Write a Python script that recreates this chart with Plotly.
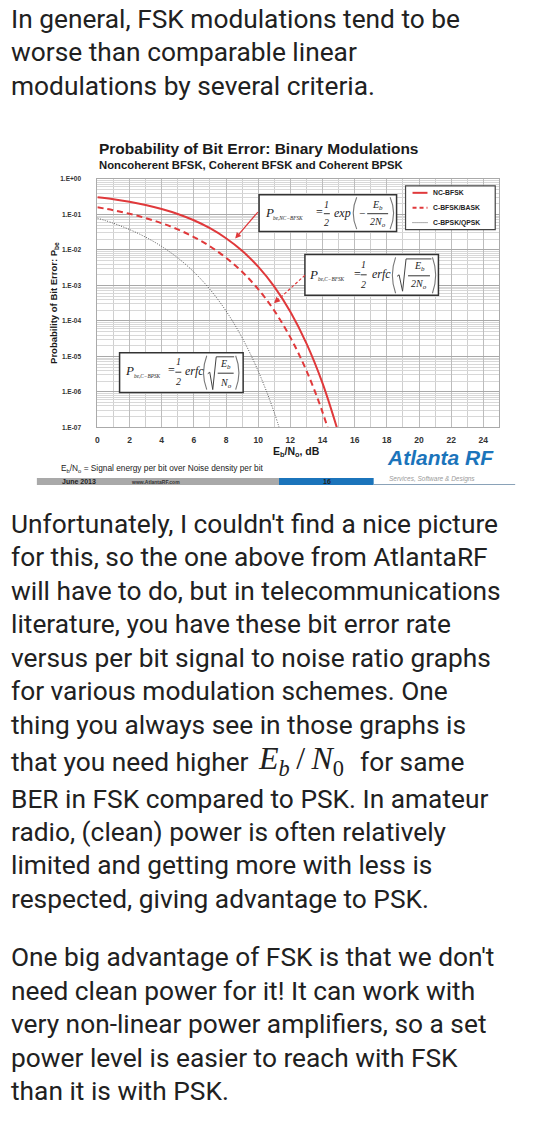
import plotly.graph_objects as go

W, H = 560, 1132

def X(px):
    return px / W

def Y(py):
    return 1 - py / H

# ---------------- data ----------------
ebno_db = [0, 1, 2, 3, 4, 5, 6, 7, 8, 9, 10, 11, 12, 13, 14, 15]
nc_bfsk = [0.303, 0.267, 0.226, 0.184, 0.142, 0.103, 0.0683, 0.0408, 0.0213,
           0.00942, 0.00337, 0.000923, 0.000181, 2.33e-5, 1.76e-6, 6.8e-8]
c_bfsk = [0.159, 0.131, 0.104, 0.0789, 0.0565, 0.0377, 0.0230, 0.0126, 0.0060,
          0.00242, 0.000783, 0.000194, 3.43e-5, 3.97e-6, 2.69e-7, 9.4e-9]
ebno_psk = [0, 1, 2, 3, 4, 5, 6, 7, 8, 9, 10, 11, 12]
c_bpsk = [0.0786, 0.0563, 0.0375, 0.0229, 0.0125, 0.00595, 0.00239, 0.000773,
          0.000191, 3.36e-5, 3.87e-6, 2.61e-7, 9.0e-9]

series_names = ["NC-BFSK", "C-BFSK/BASK", "C-BPSK/QPSK"]
x_ticks = [0, 2, 4, 6, 8, 10, 12, 14, 16, 18, 20, 22, 24]
y_ticks = [1, 1e-1, 1e-2, 1e-3, 1e-4, 1e-5, 1e-6, 1e-7]
y_tick_text = ["1.E+00", "1.E-01", "1.E-02", "1.E-03", "1.E-04", "1.E-05", "1.E-06", "1.E-07"]

RED = "#e0393b"
DOT = "#555555"
TXT = "#212121"
SANS = "Liberation Sans"
SERIF = "Liberation Serif"

fig = go.Figure()
fig.add_trace(go.Scatter(x=ebno_db, y=nc_bfsk, mode="lines", name=series_names[0],
                         line=dict(color=RED, width=2, shape="spline")))
fig.add_trace(go.Scatter(x=ebno_db, y=c_bfsk, mode="lines", name=series_names[1],
                         line=dict(color=RED, width=2, dash="6px,4px", shape="spline")))
fig.add_trace(go.Scatter(x=ebno_psk, y=c_bpsk, mode="lines", name=series_names[2],
                         line=dict(color=DOT, width=1, dash="1px,1.5px", shape="spline")))

PL, PR, PT, PB = 95.7, 499.2, 176.0, 426.0

fig.update_layout(
    width=W, height=H, margin=dict(l=0, r=0, t=0, b=0),
    paper_bgcolor="white", plot_bgcolor="white", showlegend=False,
    xaxis=dict(domain=[X(PL), X(PR)], range=[0, 25], tickvals=x_ticks,
               ticktext=[str(v) for v in x_ticks], showgrid=True, gridcolor="#bdbdbd",
               gridwidth=1, zeroline=False, showline=True, linecolor="#aaaaaa", mirror=True,
               ticks="", ticklabelstandoff=4,
               tickfont=dict(family=SANS, size=8.5, color="#333", weight="bold"),
               minor=dict(dtick=1, showgrid=True, gridcolor="#cfcfcf", gridwidth=1)),
    yaxis=dict(domain=[Y(PB), Y(PT)], type="log", range=[-7, 0], tickvals=y_ticks,
               ticktext=y_tick_text, showgrid=True, gridcolor="#a9a9a9", gridwidth=1,
               zeroline=False, showline=True, linecolor="#aaaaaa", mirror=True,
               ticks="", ticklabelstandoff=14,
               tickfont=dict(family=SANS, size=6.5, color="#333", weight="bold"),
               minor=dict(dtick="D1", showgrid=True, gridcolor="#d8d8d8", gridwidth=1)),
)

ann = []
shapes = []

def text(s, x, baseline, size, family=SANS, color=TXT, anchor="left", weight="normal",
         style="normal", k=0.35, angle=0):
    ann.append(dict(text=s, x=X(x), y=Y(baseline - k * size), xref="paper", yref="paper",
                    xanchor=anchor, yanchor="middle", showarrow=False, textangle=angle,
                    font=dict(family=family, size=size, color=color, weight=weight,
                              style=style)))

def ctext(s, x, yc, size, family=SERIF, color="#222", anchor="center", style="italic"):
    ann.append(dict(text=s, x=X(x), y=Y(yc), xref="paper", yref="paper",
                    xanchor=anchor, yanchor="middle", showarrow=False,
                    font=dict(family=family, size=size, color=color, style=style)))

def line(x0, y0, x1, y1, color="#222", width=1, dash="solid"):
    shapes.append(dict(type="line", xref="paper", yref="paper", x0=X(x0), y0=Y(y0),
                       x1=X(x1), y1=Y(y1), line=dict(color=color, width=width, dash=dash)))

def rect(x0, y0, x1, y1, color="#333", width=1.5, fill="white"):
    shapes.append(dict(type="rect", xref="paper", yref="paper", x0=X(x0), y0=Y(y0),
                       x1=X(x1), y1=Y(y1), line=dict(color=color, width=width),
                       fillcolor=fill))

def path(pts, color="#222", width=1):
    d = "M " + " L ".join(f"{X(a):.5f},{Y(b):.5f}" for a, b in pts)
    shapes.append(dict(type="path", xref="paper", yref="paper", path=d,
                       line=dict(color=color, width=width)))

def paren(x_end, x_mid, y0, y1, color="#777", width=1.1):
    ym = (y0 + y1) / 2
    d = (f"M {X(x_end):.5f},{Y(y0):.5f} Q {X(x_mid):.5f},{Y(ym):.5f} "
         f"{X(x_end):.5f},{Y(y1):.5f}")
    shapes.append(dict(type="path", xref="paper", yref="paper", path=d,
                       line=dict(color=color, width=width)))

# ---------------- page text ----------------
BODY = 26.3
top_lines = [
    ("In general, FSK modulations tend to be", 24),
    ("worse than comparable linear", 57.5),
    ("modulations by several criteria.", 91.5),
]
body_lines = [
    ("Unfortunately, I couldn't find a nice picture", 532.5),
    ("for this, so the one above from AtlantaRF", 566),
    ("will have to do, but in telecommunications", 599.5),
    ("literature, you have these bit error rate", 633),
    ("versus per bit signal to noise ratio graphs", 667),
    ("for various modulation schemes. One", 700.5),
    ("thing you always see in those graphs is", 735),
    ("BER in FSK compared to PSK. In amateur", 809),
    ("radio, (clean) power is often relatively", 842),
    ("limited and getting more with less is", 875.5),
    ("respected, giving advantage to PSK.", 909.5),
    ("One big advantage of FSK is that we don't", 968.5),
    ("need clean power for it! It can work with", 1002),
    ("very non-linear power amplifiers, so a set", 1035.5),
    ("power level is easier to reach with FSK", 1069.5),
    ("than it is with PSK.", 1103),
]
for s, b in top_lines + body_lines:
    text(s, 7.5, b, BODY, family="Roboto", color=TXT)
text("that you need higher", 7.5, 772, BODY, family="Roboto", color=TXT)
text("<i>E</i><sub><i>b</i></sub>\u2009/\u2009<i>N</i><sub>0</sub>", 255, 772, 32,
     family=SERIF, color=TXT)
text("for same", 357, 772, BODY, family="Roboto", color=TXT)

# ---------------- chart titles ----------------
text("Probability of Bit Error: Binary Modulations", 95, 151, 15.5, weight="bold", color="#1a1a1a")
text("Noncoherent BFSK, Coherent BFSK and Coherent BPSK", 95, 166, 11.3, weight="bold", color="#1a1a1a")
ann.append(dict(text="Probability of Bit Error: P<sub>be</sub>", x=X(52), y=Y(301),
                xref="paper", yref="paper", xanchor="center", yanchor="middle",
                textangle=-90, showarrow=False,
                font=dict(family=SANS, size=9.5, color="#1a1a1a", weight="bold")))
ann.append(dict(text="E<sub>b</sub>/N<sub>o</sub>, dB", x=X(296), y=Y(451),
                xref="paper", yref="paper", xanchor="center", yanchor="middle",
                showarrow=False, font=dict(family=SANS, size=10.5, color="#1a1a1a", weight="bold")))
text("E<sub>b</sub>/N<sub>o</sub> = Signal energy per bit over Noise density per bit",
     57, 470, 8.3, color="#222")

# Atlanta RF branding / footer
text("Atlanta RF", 384, 464, 21, weight="bold", style="italic", color="#1b74bb")
text("Services, Software &amp; Designs", 386, 480, 6.5, style="italic", color="#9a9a9a")
shapes.append(dict(type="rect", xref="paper", yref="paper", x0=X(35), y0=Y(484),
                   x1=X(278), y1=Y(477), line=dict(width=0), fillcolor="#a9a9a9"))
shapes.append(dict(type="rect", xref="paper", yref="paper", x0=X(278), y0=Y(484),
                   x1=X(373), y1=Y(477), line=dict(width=0), fillcolor="#1b74bb"))
line(373, 483.5, 515, 483.5, color="#8aa2b8", width=1.2)
text("June 2013", 58, 483, 7, weight="bold", color="#222")
text("www.AtlantaRF.com", 127, 483, 5, weight="bold", color="#333")
text("16", 326, 483, 7, weight="bold", color="#222", anchor="center")

# ---------------- legend box ----------------
rect(405, 183, 495, 227, color="#444", width=1.2)
leg_y = [190, 205, 220]
line(412, leg_y[0], 427, leg_y[0], color=RED, width=2)
line(412, leg_y[1], 427, leg_y[1], color=RED, width=2, dash="4px,3px")
line(412, leg_y[2], 427, leg_y[2], color=DOT, width=1, dash="1px,1px")
for nm, yy in zip(series_names, leg_y):
    text(nm, 431, yy + 2.3, 6.8, weight="bold", color="#222")

# ---------------- formula boxes ----------------
def frac(xc, ytop, ybot, yline, num, den, size=10, half=10):
    ctext(num, xc, ytop, size)
    ctext(den, xc, ybot, size)
    line(xc - half, yline, xc + half, yline, color="#333", width=1)

# Box 1: NC-BFSK
rect(258, 192, 396, 229)
ctext("P", 261.5, 210, 13, anchor="left")
ctext("be,NC−BFSK", 270, 215, 5.3, anchor="left")
ctext("=", 313, 209.5, 12, anchor="left", style="normal")
frac(326, 202, 220, 211, "1", "2", size=10, half=3)
ctext("exp", 331, 210, 12, anchor="left")
paren(356, 349, 194.5, 226.5)
ctext("−", 361, 210.5, 11, style="normal")
frac(377, 202.5, 220, 211, "E<sub>b</sub>", "2N<sub>o</sub>", size=10, half=10.5)
paren(389.5, 396.5, 194.5, 226.5)

# Box 2: C-BFSK
rect(304, 252, 438, 293)
ctext("P", 306.5, 272, 13, anchor="left")
ctext("be,C−BFSK", 315, 277, 5.3, anchor="left")
ctext("=", 351, 271.5, 12, anchor="left", style="normal")
frac(363, 262, 282, 272.5, "1", "2", size=10, half=3)
ctext("erfc", 369, 272, 12, anchor="left")
paren(395, 388.5, 255, 291)
path([(396.5, 274), (398.5, 272.5), (402, 289), (405.5, 256.5), (431, 256.5)], color="#444", width=1)
frac(418.5, 264, 282.5, 273.5, "E<sub>b</sub>", "2N<sub>o</sub>", size=10, half=11)
paren(432, 438.5, 255, 291)

# Box 3: C-BPSK
rect(118, 351, 242, 391)
ctext("P", 121.5, 369, 13, anchor="left")
ctext("be,C−BPSK", 130, 374, 5.3, anchor="left")
ctext("=", 165, 368.5, 12, anchor="left", style="normal")
frac(177, 360, 380, 370.5, "1", "2", size=10, half=3)
ctext("erfc", 182, 369, 12, anchor="left")
paren(205.5, 199, 354, 388)
path([(206.5, 372), (208.5, 370.5), (211.5, 388), (215, 355), (233, 355)], color="#444", width=1)
frac(224.5, 362.5, 381.5, 371.5, "E<sub>b</sub>", "N<sub>o</sub>", size=10, half=8)
paren(234.5, 241, 354, 388)

# ---------------- arrows ----------------
ann.append(dict(text="", x=X(234), y=Y(236), xref="paper", yref="paper", showarrow=True,
                ax=258 - 234, ay=208 - 236, arrowhead=2, arrowsize=1, arrowwidth=1.2,
                arrowcolor=RED))
line(304, 273, 277, 297.5, color=RED, width=1.2, dash="3px,2px")
ann.append(dict(text="", x=X(273), y=Y(301), xref="paper", yref="paper", showarrow=True,
                ax=6, ay=-5.5, arrowhead=2, arrowsize=1, arrowwidth=1.2, arrowcolor=RED))

fig.update_layout(annotations=ann, shapes=shapes)
fig.write_html("out.html")
